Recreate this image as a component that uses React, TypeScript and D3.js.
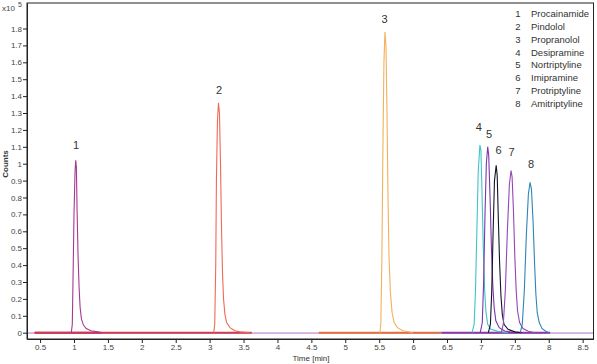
import React, { useEffect, useRef } from "react";
import * as d3 from "d3";

const compounds = ["Procainamide", "Pindolol", "Propranolol", "Desipramine", "Nortriptyline", "Imipramine", "Protriptyline", "Amitriptyline"];
const colors = ["#a83890", "#ee6a58", "#f2b060", "#3ec4cc", "#7a36ac", "#141428", "#9446b6", "#2e86b6"];

// [time (min), counts x10^5]
const trace1 = [[0.96, 0], [0.975, 0.05], [0.985, 0.3], [1.0, 0.7], [1.015, 0.95], [1.025, 1.02], [1.035, 0.98], [1.045, 0.73], [1.06, 0.45], [1.075, 0.27], [1.09, 0.15], [1.11, 0.08], [1.14, 0.045], [1.18, 0.025], [1.25, 0.012], [1.35, 0.005], [1.4, 0]];
const trace2 = [[3.06, 0], [3.075, 0.05], [3.09, 0.4], [3.1, 0.9], [3.115, 1.25], [3.13, 1.36], [3.145, 1.3], [3.16, 1.0], [3.175, 0.62], [3.19, 0.35], [3.205, 0.2], [3.225, 0.11], [3.25, 0.06], [3.3, 0.03], [3.37, 0.012], [3.45, 0.005], [3.6, 0]];
const trace3 = [[5.51, 0], [5.525, 0.06], [5.54, 0.45], [5.555, 1.1], [5.57, 1.6], [5.585, 1.78], [5.6, 1.7], [5.615, 1.3], [5.63, 0.8], [5.645, 0.45], [5.665, 0.24], [5.69, 0.12], [5.72, 0.06], [5.77, 0.03], [5.85, 0.012], [5.95, 0.004], [6.0, 0]];
const trace4 = [[6.87, 0], [6.9, 0.05], [6.92, 0.25], [6.94, 0.6], [6.96, 0.95], [6.985, 1.11], [7.0, 1.08], [7.015, 0.85], [7.035, 0.5], [7.055, 0.25], [7.075, 0.12], [7.1, 0.05], [7.15, 0.02], [7.25, 0.008], [7.4, 0]];
const trace5 = [[6.99, 0], [7.02, 0.06], [7.04, 0.3], [7.06, 0.7], [7.08, 1.0], [7.1, 1.1], [7.115, 1.05], [7.135, 0.8], [7.155, 0.5], [7.175, 0.28], [7.195, 0.15], [7.22, 0.07], [7.27, 0.03], [7.35, 0.01], [7.5, 0]];
const trace6 = [[7.11, 0], [7.14, 0.05], [7.16, 0.25], [7.18, 0.6], [7.2, 0.9], [7.225, 0.99], [7.24, 0.93], [7.255, 0.7], [7.275, 0.42], [7.295, 0.22], [7.315, 0.11], [7.34, 0.05], [7.4, 0.02], [7.5, 0.005], [7.6, 0]];
const trace7 = [[7.3, 0], [7.33, 0.05], [7.36, 0.25], [7.39, 0.6], [7.42, 0.88], [7.445, 0.96], [7.46, 0.92], [7.48, 0.72], [7.5, 0.45], [7.52, 0.25], [7.54, 0.13], [7.57, 0.06], [7.62, 0.025], [7.7, 0.008], [7.8, 0]];
const trace8 = [[7.58, 0], [7.61, 0.05], [7.64, 0.25], [7.67, 0.58], [7.7, 0.82], [7.725, 0.89], [7.745, 0.85], [7.77, 0.65], [7.79, 0.42], [7.81, 0.23], [7.83, 0.12], [7.86, 0.06], [7.9, 0.025], [7.95, 0.01], [8.0, 0]];
const traces = [trace1, trace2, trace3, trace4, trace5, trace6, trace7, trace8];

// baseline segments [start, end] of the acquisition windows
const baseStart = [0.42, 0.42, 4.61, 6.42];
const baseEnd = [1.4, 3.62, 6.42, 8.02];
const baseColors = ["#b83a78", "#cc3c50", "#e2703c", "#8a3aa2"];

// peak number labels [time, counts]
const labelTimes = [1.03, 3.14, 5.58, 6.97, 7.12, 7.26, 7.45, 7.74];
const labelCounts = [1.11, 1.436, 1.856, 1.217, 1.176, 1.081, 1.071, 0.998];

const xTicks = [0.5, 1, 1.5, 2, 2.5, 3, 3.5, 4, 4.5, 5, 5.5, 6, 6.5, 7, 7.5, 8, 8.5];
const yTicks = d3.range(0, 19).map((i) => i / 10);

export default function App() {
  const ref = useRef<SVGSVGElement>(null);

  useEffect(() => {
    const svg = d3.select(ref.current);
    svg.selectAll("*").remove();
    const font = "Liberation Sans, Arial, sans-serif";

    const x = d3.scaleLinear().domain([0.307, 8.66]).range([27, 593.5]);
    const y = d3.scaleLinear().domain([-0.0373, 1.951]).range([339, 3]);

    const line = d3.line<number[]>().x((d) => x(d[0])).y((d) => y(d[1]));

    // frame
    svg.append("rect")
      .attr("x", 27).attr("y", 3)
      .attr("width", 593.5 - 27).attr("height", 339 - 3)
      .attr("fill", "none").attr("stroke", "#222").attr("stroke-width", 1);

    const plot = svg.append("g");

    // thin full-width baseline
    plot.append("line")
      .attr("x1", 28).attr("x2", 593)
      .attr("y1", y(-0.002)).attr("y2", y(-0.002))
      .attr("stroke", "#b070c8").attr("stroke-width", 1);

    baseStart.forEach((s, i) => {
      plot.append("line")
        .attr("x1", x(s)).attr("x2", x(baseEnd[i]))
        .attr("y1", y(0)).attr("y2", y(0))
        .attr("stroke", baseColors[i]).attr("stroke-width", 2);
    });

    traces.forEach((t, i) => {
      plot.append("path")
        .attr("d", line(t))
        .attr("fill", "none")
        .attr("stroke", colors[i])
        .attr("stroke-width", 1.1);
    });

    // axes
    const xAxis = svg.append("g")
      .attr("transform", "translate(0,339)")
      .call(d3.axisBottom(x).tickValues(xTicks).tickSize(4).tickSizeOuter(0).tickFormat((d) => String(d)));
    const yAxis = svg.append("g")
      .attr("transform", "translate(27,0)")
      .call(d3.axisLeft(y).tickValues(yTicks).tickSize(4).tickSizeOuter(0).tickFormat((d) => String(+(+d).toFixed(1))));
    [xAxis, yAxis].forEach((a) => {
      a.select(".domain").attr("stroke", "#222");
      a.selectAll(".tick line").attr("stroke", "#222");
      a.selectAll("text").attr("font-family", font).attr("font-size", 8).attr("fill", "#444");
    });
    xAxis.selectAll("text").attr("dy", "0.6em").attr("y", 6);
    yAxis.selectAll("text").attr("x", -5);

    // axis titles
    svg.append("text")
      .attr("x", 311).attr("y", 361)
      .attr("text-anchor", "middle")
      .attr("font-family", font).attr("font-size", 8).attr("fill", "#333")
      .text("Time [min]");
    svg.append("text")
      .attr("transform", "translate(8,164) rotate(-90)")
      .attr("text-anchor", "middle")
      .attr("font-family", font).attr("font-size", 8).attr("font-weight", "bold").attr("fill", "#333")
      .text("Counts");
    svg.append("text")
      .attr("x", 2).attr("y", 11)
      .attr("font-family", font).attr("font-size", 8).attr("fill", "#444")
      .text("x10");
    svg.append("text")
      .attr("x", 18).attr("y", 7)
      .attr("font-family", font).attr("font-size", 7).attr("fill", "#444")
      .text("5");

    // peak labels
    labelTimes.forEach((t, i) => {
      svg.append("text")
        .attr("x", x(t)).attr("y", y(labelCounts[i]))
        .attr("dy", "0.35em")
        .attr("text-anchor", "middle")
        .attr("font-family", font).attr("font-size", 11).attr("fill", "#333")
        .text(String(i + 1));
    });

    // legend
    compounds.forEach((c, i) => {
      const yy = 14 + i * 12.75;
      svg.append("text")
        .attr("x", 518).attr("y", yy).attr("dy", "0.35em")
        .attr("text-anchor", "middle")
        .attr("font-family", font).attr("font-size", 9.5).attr("fill", "#333")
        .text(String(i + 1));
      svg.append("text")
        .attr("x", 531).attr("y", yy).attr("dy", "0.35em")
        .attr("font-family", font).attr("font-size", 9.5).attr("fill", "#333")
        .text(c);
    });
  }, []);

  return (
    <svg
      ref={ref}
      width={597}
      height={364}
      style={{ position: "absolute", left: 0, top: 0, background: "#fff", display: "block" }}
    />
  );
}
